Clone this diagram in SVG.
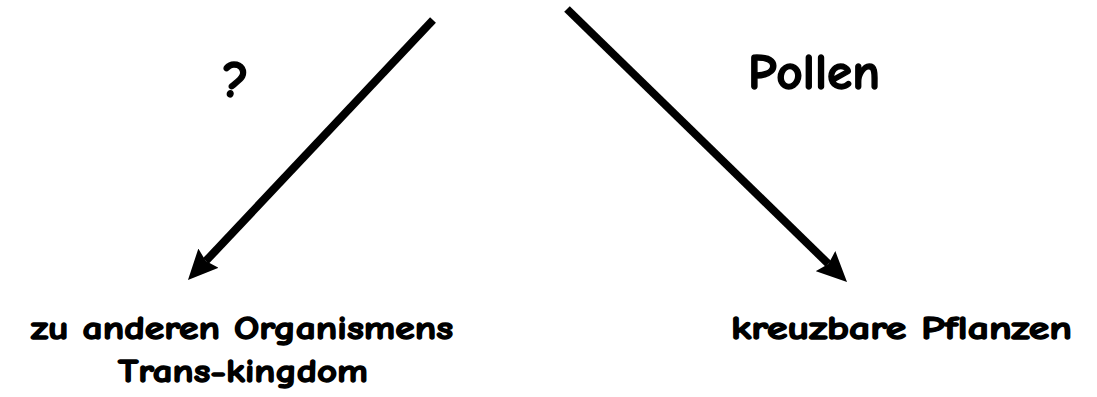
<svg xmlns="http://www.w3.org/2000/svg" width="1097" height="397" viewBox="0 0 1097 397">
<style>
.t{font-family:"Comic Sans MS","Comic Neue","Liberation Sans",sans-serif;font-weight:bold;fill:#000;stroke:#000;stroke-width:1.4px;stroke-linejoin:round}
.c{stroke:#000;stroke-width:8;fill:none}
</style>
<defs>
<marker id="ah" markerUnits="userSpaceOnUse" markerWidth="30" markerHeight="28" viewBox="0 0 30 28" refX="4" refY="14" orient="auto">
<path d="M0,0 L30,14 L0,28 L4,14 z" fill="#000"/>
</marker>
</defs>
<rect width="1097" height="397" fill="#fff"/>
<g id="connectors">
<line class="c" x1="433" y1="20" x2="205.8" y2="261.1" marker-end="url(#ah)"/>
<line class="c" x1="567" y1="9" x2="828.4" y2="263.9" marker-end="url(#ah)"/>
</g>
<g id="label-question"><text class="t" x="236" y="97" font-size="52" text-anchor="middle">?</text></g>
<g id="label-pollen"><text class="t" x="748" y="89" font-size="50" textLength="132" lengthAdjust="spacingAndGlyphs">Pollen</text></g>
<g id="node-left">
<text class="t" x="242" y="339" font-size="33" text-anchor="middle" textLength="422" lengthAdjust="spacingAndGlyphs">zu anderen Organismens</text>
<text class="t" x="243" y="382" font-size="33" text-anchor="middle" textLength="250" lengthAdjust="spacingAndGlyphs">Trans-kingdom</text>
</g>
<g id="node-right">
<text class="t" x="731" y="339" font-size="33" textLength="341" lengthAdjust="spacingAndGlyphs">kreuzbare Pflanzen</text>
</g>
</svg>
